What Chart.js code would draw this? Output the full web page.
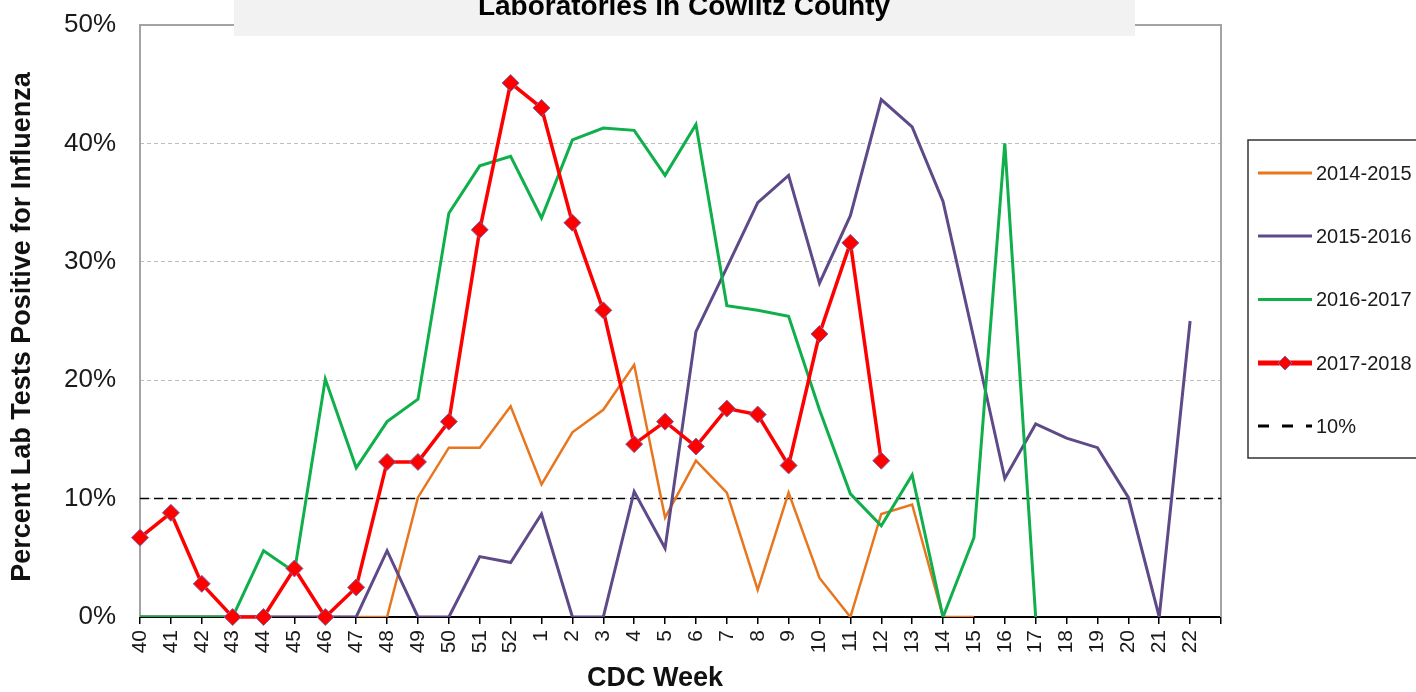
<!DOCTYPE html>
<html lang="en">
<head>
<meta charset="UTF-8">
<title>Influenza - Cowlitz County</title>
<style>
  html, body { margin:0; padding:0; background:#fff; }
  canvas { display:block; }
</style>
</head>
<body>
<canvas id="myChart" width="1416" height="692"></canvas>

<script src="https://cdn.jsdelivr.net/npm/chart.js@4.4.1/dist/chart.umd.min.js"></script>
<script>
// CDC weeks 40..52 then 1..22, plus one empty slot at the right edge
var weeks = ['40','41','42','43','44','45','46','47','48','49','50','51','52',
             '1','2','3','4','5','6','7','8','9','10','11','12','13','14','15',
             '16','17','18','19','20','21','22',''];

var s2014 = [0,0,0,0,0,0,0,0,0,10.1,14.3,14.3,17.8,
             11.2,15.6,17.5,21.3,8.4,13.2,10.5,2.3,10.5,3.3,0,8.7,9.5,0,0,
             null,null,null,null,null,null,null,null];

var s2015 = [0,0,0,0,0,0,0,0,5.6,0,0,5.1,4.6,
             8.7,0,0,10.6,5.8,24.1,29.5,35.0,37.3,28.2,33.9,43.7,41.4,35.1,23.5,
             11.7,16.3,15.1,14.3,10.1,0,25.0,null];

var s2016 = [0,0,0,0,5.6,3.8,20.1,12.6,16.5,18.4,34.1,38.1,38.9,
             33.7,40.3,41.3,41.1,37.3,41.6,26.3,25.9,25.4,17.5,10.4,7.7,12.0,0,6.7,
             40.0,0,null,null,null,null,null,null];

var s2017 = [6.7,8.8,2.8,0,0,4.1,0,2.5,13.1,13.1,16.5,32.7,45.1,
             43.0,33.3,25.9,14.6,16.5,14.4,17.6,17.1,12.8,23.9,31.6,13.2,null,null,null,
             null,null,null,null,null,null,null,null];

var threshold = [10,10,10,10,10,10,10,10,10,10,10,10,10,
                 10,10,10,10,10,10,10,10,10,10,10,10,10,10,10,
                 10,10,10,10,10,10,10,10];

var yTicks = [0,10,20,30,40,50];

var seriesNames = ['2014-2015','2015-2016','2016-2017','2017-2018','10%'];
var seriesColors = ['#E8761F','#5E4A88','#0FAF4B','#FF0000','#000000'];

var FONT = "'Liberation Sans', Arial, sans-serif";

// frame, title box, axis titles and legend
var decor = {
    id: 'decor',
    beforeDatasetsDraw: function(chart){
        var c = chart.ctx, a = chart.chartArea;
        c.save();
        c.strokeStyle = '#a3a3a3';
        c.lineWidth = 2;
        c.beginPath();
        c.moveTo(a.left, a.bottom);
        c.lineTo(a.left, a.top);
        c.lineTo(a.right, a.top);
        c.lineTo(a.right, a.bottom);
        c.stroke();
        c.restore();
    },
    afterDraw: function(chart){
        var c = chart.ctx;
        c.save();
        // title box (clipped at the top of the picture)
        c.fillStyle = '#f2f2f2';
        c.fillRect(234, 0, 901, 36);
        c.fillStyle = '#000';
        c.font = 'bold 28px ' + FONT;
        c.textAlign = 'center';
        c.textBaseline = 'alphabetic';
        c.fillText('Laboratories in Cowlitz County', 684, 15);

        // axis titles
        c.fillStyle = '#111';
        c.font = 'bold 27px ' + FONT;
        c.textBaseline = 'middle';
        c.fillText('CDC Week', 655, 679);
        c.translate(23, 327);
        c.rotate(-Math.PI/2);
        c.fillText('Percent Lab Tests Positive for Influenza', 0, 0);
        c.restore();

        // legend
        c.save();
        c.strokeStyle = '#333';
        c.lineWidth = 1.5;
        c.strokeRect(1248, 140, 220, 318);
        var rows = [173, 236, 299.5, 363, 426];
        c.font = '20px ' + FONT;
        c.textAlign = 'left';
        c.textBaseline = 'middle';
        for (var i=0; i<seriesNames.length; i++){
            var y = rows[i];
            c.strokeStyle = seriesColors[i];
            c.lineWidth = (i==3) ? 5 : 3;
            if (i==4) { c.setLineDash([11,13]); c.lineWidth = 3; }
            c.beginPath();
            c.moveTo(1258, y);
            c.lineTo(1312, y);
            c.stroke();
            c.setLineDash([]);
            if (i==3){
                c.fillStyle = '#FF0000';
                c.strokeStyle = '#7a68a8';
                c.lineWidth = 1;
                c.beginPath();
                c.moveTo(1285, y-7); c.lineTo(1292, y); c.lineTo(1285, y+7); c.lineTo(1278, y);
                c.closePath();
                c.fill(); c.stroke();
            }
            c.fillStyle = '#1a1a1a';
            c.fillText(seriesNames[i], 1316, y+1);
        }
        c.restore();
    }
};

function lineSet(label, data, color, width, order){
    return {
        label: label,
        data: data,
        borderColor: color,
        backgroundColor: color,
        borderWidth: width,
        pointRadius: 0,
        pointHoverRadius: 0,
        tension: 0,
        spanGaps: false,
        order: order
    };
}

var ds2017 = lineSet('2017-2018', s2017, '#FF0000', 3.5, 0);
ds2017.pointRadius = 8.5;
ds2017.pointStyle = 'rectRot';
ds2017.pointBackgroundColor = '#FF0000';
ds2017.pointBorderColor = '#7a68a8';
ds2017.pointBorderWidth = 1;
ds2017.clip = false;

var dsThr = lineSet('10%', threshold, '#000000', 1.5, 4);
dsThr.borderDash = [9,5];

const ctx = document.getElementById('myChart').getContext('2d');
const myChart = new Chart(ctx, {
    type: 'line',
    data: {
        labels: weeks,
        datasets: [
            ds2017,
            lineSet('2016-2017', s2016, '#0FAF4B', 3, 1),
            lineSet('2015-2016', s2015, '#5E4A88', 3, 2),
            lineSet('2014-2015', s2014, '#E8761F', 2.5, 3),
            dsThr
        ]
    },
    options: {
        responsive: false,
        animation: false,
        layout: { padding: { left: 0, top: 25, right: 195, bottom: 0 } },
        plugins: {
            legend: { display: false },
            tooltip: { enabled: false },
            title: { display: false }
        },
        scales: {
            x: {
                type: 'category',
                offset: false,
                afterFit: function(s){ s.height = 75; },
                grid: {
                    drawOnChartArea: false,
                    drawTicks: true,
                    tickLength: 7,
                    color: '#000',
                    lineWidth: 1.5
                },
                border: { display: true, color: '#000', width: 2 },
                ticks: {
                    autoSkip: false,
                    minRotation: 90,
                    maxRotation: 90,
                    padding: 6,
                    color: '#1a1a1a',
                    font: { family: FONT, size: 21 }
                }
            },
            y: {
                min: 0,
                max: 50,
                afterFit: function(s){ s.width = 140; },
                afterBuildTicks: function(s){
                    s.ticks = yTicks.map(function(v){ return { value: v }; });
                },
                grid: {
                    drawTicks: true,
                    tickLength: 24,
                    tickColor: 'rgba(0,0,0,0)',
                    lineWidth: 1,
                    color: function(c){
                        var v = c.tick ? c.tick.value : 0;
                        return (v > 0 && v < 50) ? '#bdbdbd' : 'rgba(0,0,0,0)';
                    }
                },
                border: { display: false, dash: [4,3] },
                ticks: {
                    padding: 0,
                    color: '#1a1a1a',
                    font: { family: FONT, size: 26 },
                    callback: function(v){ return v + '%'; }
                }
            }
        }
    },
    plugins: [decor]
});
</script>
</body>
</html>
